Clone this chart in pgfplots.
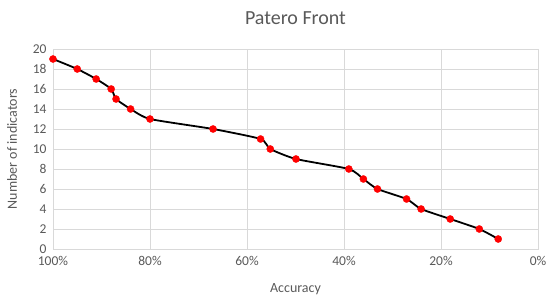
\documentclass[border=0pt]{standalone}
\usepackage{pgfplots}
\pgfplotsset{compat=1.18}
\usepackage{fontspec}
\setmainfont{Carlito}
\definecolor{txt}{HTML}{595959}
\definecolor{grd}{HTML}{D9D9D9}
\begin{document}
\begin{tikzpicture}
\useasboundingbox (-53bp,-53bp) rectangle (497bp,249bp);
\begin{axis}[
  scale only axis,
  width=485bp, height=200bp,
  xmin=0, xmax=100, ymin=0, ymax=20,
  x dir=reverse,
  xtick={0,20,40,60,80,100},
  xticklabels={0\%,20\%,40\%,60\%,80\%,100\%},
  ytick={0,2,...,20},
  grid=major,
  major grid style={grd, line width=0.9bp},
  axis line style={grd, line width=0.9bp},
  tick style={draw=none},
  ticklabel style={font=\fontsize{13.5bp}{15bp}\selectfont, text=txt},
  /pgf/number format/assume math mode=true,
  xticklabel style={yshift=-4bp},
  yticklabel style={xshift=-3bp},
  xlabel={Accuracy},
  ylabel={Number of indicators},
  label style={font=\fontsize{14bp}{16bp}\selectfont, text=txt},
  xlabel style={yshift=-11bp},
  ylabel style={yshift=9bp},
  title={Patero Front},
  title style={font=\fontsize{20bp}{22bp}\selectfont, text=txt, yshift=15bp},
]
\addplot[black, line width=1.8bp, smooth, tension=0.35, mark=*, mark size=3.6bp,
  mark options={fill=red, draw=red, line width=0.3bp}] coordinates {
(100,19) (95,18) (91.1,17) (88,16) (87,15) (84,14) (80,13) (67,12)
(57.2,11) (55.2,10) (49.9,9) (39,8) (36,7) (33.1,6) (27.1,5) (24.1,4)
(18.1,3) (12.1,2) (8.2,1)
};
\end{axis}
\end{tikzpicture}
\end{document}
